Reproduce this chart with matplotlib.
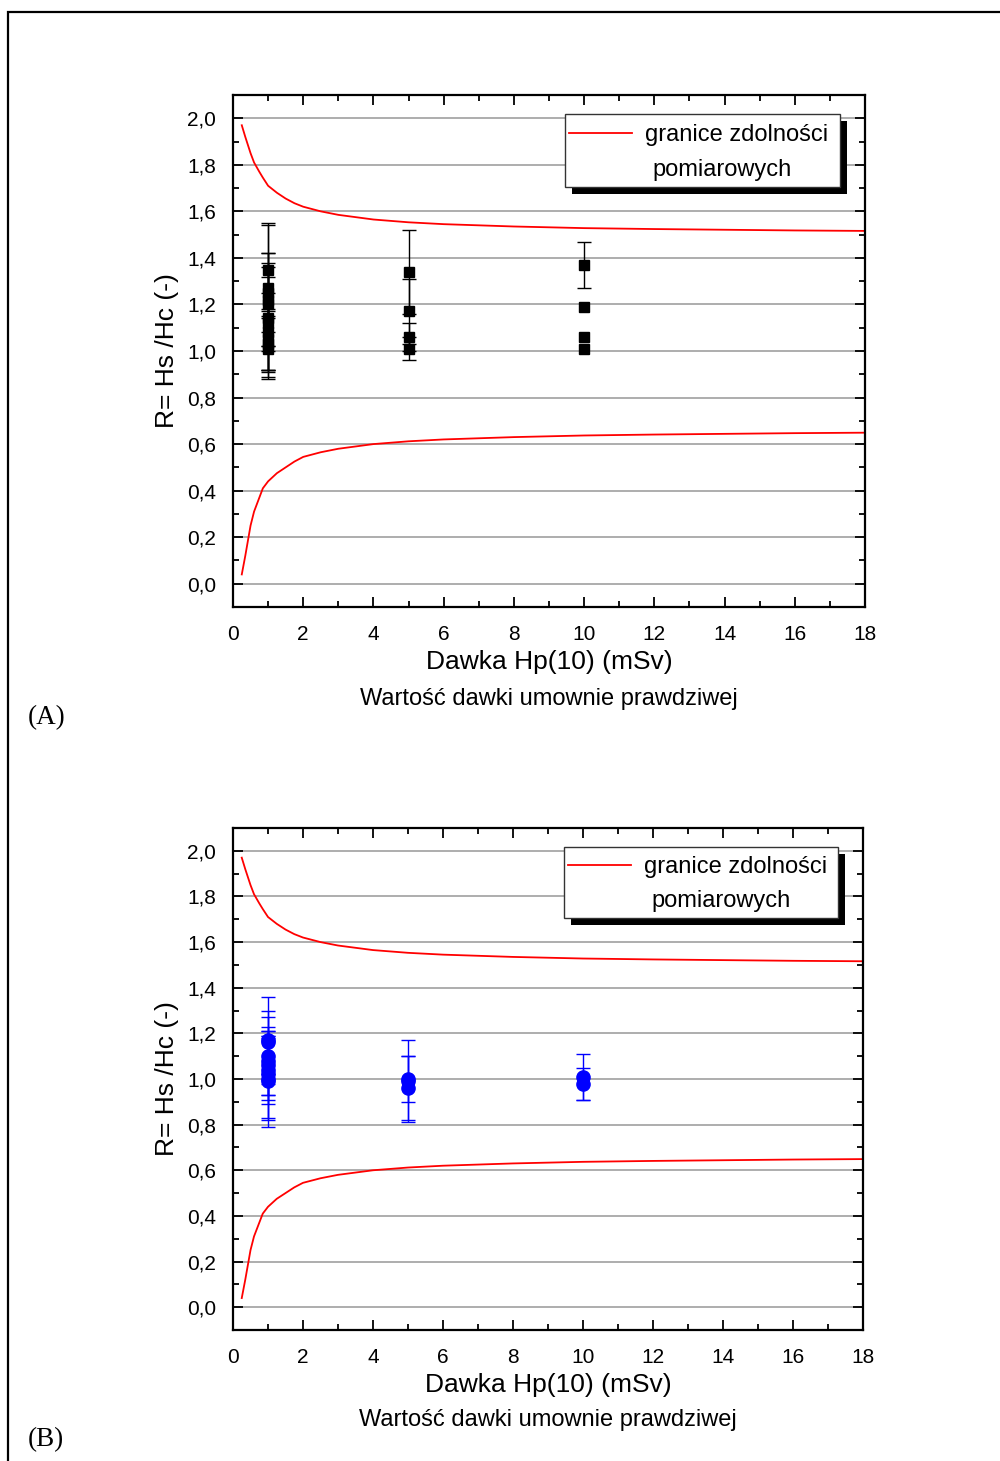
import matplotlib
matplotlib.use("Agg")
import matplotlib.pyplot as plt
from matplotlib.patches import Rectangle
from matplotlib.ticker import MultipleLocator, FuncFormatter

plt.rcParams['font.family'] = ['Liberation Sans', 'DejaVu Sans']

# ==========================
#   DATA
# ==========================

# measurement capability limits (red curves)
limit_x = [0.25, 0.35, 0.5, 0.6, 0.75, 0.85, 1, 1.25, 1.5, 1.75, 2, 2.5,
           3, 3.5, 4, 5, 6, 8, 10, 12, 14, 16, 18]
limit_upper = [1.97, 1.92, 1.85, 1.81, 1.77, 1.745, 1.71, 1.68, 1.655,
               1.635, 1.62, 1.60, 1.585, 1.575, 1.565, 1.553, 1.545,
               1.535, 1.528, 1.524, 1.521, 1.518, 1.516]
limit_lower = [0.04, 0.12, 0.25, 0.31, 0.37, 0.41, 0.44, 0.475, 0.50,
               0.525, 0.545, 0.565, 0.58, 0.59, 0.60, 0.612, 0.62,
               0.63, 0.637, 0.641, 0.644, 0.647, 0.649]

# panel A - black squares
a_dose = [1, 1, 1, 1, 1, 1, 1, 1, 1, 1, 1,
          5, 5, 5, 5,
          10, 10, 10, 10]
a_R = [1.35, 1.27, 1.25, 1.22, 1.20, 1.14, 1.12, 1.08, 1.05, 1.03, 1.01,
       1.34, 1.17, 1.06, 1.01,
       1.37, 1.19, 1.06, 1.01]
a_err = [0.20, 0.27, 0.17, 0.20, 0.18, 0.22, 0.20, 0.17, 0.13, 0.14, 0.13,
         0.18, 0.14, 0.06, 0.05,
         0.10, 0.0, 0.0, 0.0]

# panel B - blue circles
b_dose = [1, 1, 1, 1, 1, 1, 1, 1, 1,
          5, 5, 5,
          10, 10]
b_R = [1.17, 1.16, 1.10, 1.08, 1.06, 1.04, 1.02, 1.00, 0.99,
       1.00, 0.99, 0.96,
       1.01, 0.98]
b_err = [0.19, 0.14, 0.17, 0.15, 0.15, 0.15, 0.19, 0.18, 0.20,
         0.10, 0.18, 0.14,
         0.10, 0.07]

xlabel = "Dawka Hp(10) (mSv)"
xlabel2 = "Wartość dawki umownie prawdziwej"
ylabel = "R= Hs /Hc (-)"
legend_label = ["granice zdolności", "pomiarowych"]

# ==========================
#   Figure
# ==========================
W, H = 1000, 1461
fig = plt.figure(figsize=(W / 100, H / 100), dpi=100)

# page frame
fig.patches.append(Rectangle((8 / W, -0.02), 1.1, 1 - 12 / H + 0.02,
                             transform=fig.transFigure, fill=False,
                             edgecolor='black', linewidth=1.6))

comma = FuncFormatter(lambda v, p: f"{v:.1f}".replace('.', ','))


def make_panel(rect, dose, R, err, color, marker, msize, tag, tag_y):
    ax = fig.add_axes(rect)
    ax.set_xlim(0, 18)
    ax.set_ylim(-0.1, 2.1)
    ax.xaxis.set_major_locator(MultipleLocator(2))
    ax.xaxis.set_minor_locator(MultipleLocator(1))
    ax.yaxis.set_major_locator(MultipleLocator(0.2))
    ax.yaxis.set_minor_locator(MultipleLocator(0.1))
    ax.yaxis.set_major_formatter(comma)
    ax.tick_params(which='both', direction='in', top=True, right=True,
                   labelsize=15, width=1.3)
    ax.tick_params(axis='x', which='major', pad=13)
    ax.tick_params(axis='y', which='major', pad=12)
    ax.tick_params(which='major', length=7)
    ax.tick_params(which='minor', length=4)
    for s in ax.spines.values():
        s.set_linewidth(1.6)
    ax.grid(True, axis='y', which='major', color='#a0a0a0', linewidth=1.2)
    ax.set_axisbelow(True)

    ax.plot(limit_x, limit_upper, color='red', linewidth=1.3)
    ax.plot(limit_x, limit_lower, color='red', linewidth=1.3)

    # error bars only where an error was drawn
    ex = [d for d, e in zip(dose, err) if e > 0]
    ey = [r for r, e in zip(R, err) if e > 0]
    ee = [e for e in err if e > 0]
    ax.errorbar(ex, ey, yerr=ee, fmt='none', ecolor=color,
                elinewidth=1.0, capsize=5, capthick=1.0)
    ax.plot(dose, R, marker, color=color, markersize=msize, zorder=4)

    ax.set_xlabel(xlabel, fontsize=19, labelpad=4)
    ax.set_ylabel(ylabel, fontsize=19, labelpad=6)
    ax.text(0.5, -0.180, xlabel2, transform=ax.transAxes, ha='center',
            va='center', fontsize=17)

    # legend box with shadow
    ax.add_patch(Rectangle((0.536, 0.807), 0.435, 0.142, transform=ax.transAxes,
                           facecolor='black', edgecolor='none', zorder=5,
                           clip_on=False))
    ax.add_patch(Rectangle((0.525, 0.820), 0.435, 0.143, transform=ax.transAxes,
                           facecolor='white', edgecolor='#333333', linewidth=1.0,
                           zorder=6, clip_on=False))
    ax.plot([0.532, 0.631], [0.926, 0.926], transform=ax.transAxes,
            color='red', linewidth=1.3, zorder=7, clip_on=False)
    ax.text(0.652, 0.922, legend_label[0], transform=ax.transAxes,
            ha='left', va='center', fontsize=17, zorder=7)
    ax.text(0.774, 0.854, legend_label[1], transform=ax.transAxes,
            ha='center', va='center', fontsize=17, zorder=7)

    fig.text(28 / W, 1 - tag_y / H, tag, ha='left', va='center',
             fontsize=19.5, family='Liberation Serif')
    return ax


make_panel([0.233, 1 - 607 / H, 0.632, 512 / H], a_dose, a_R, a_err,
           'black', 's', 7, '(A)', 718)
make_panel([0.233, 1 - 1330 / H, 0.630, 502 / H], b_dose, b_R, b_err,
           'blue', 'o', 9.5, '(B)', 1440)

fig.savefig("out.png", dpi=100)
